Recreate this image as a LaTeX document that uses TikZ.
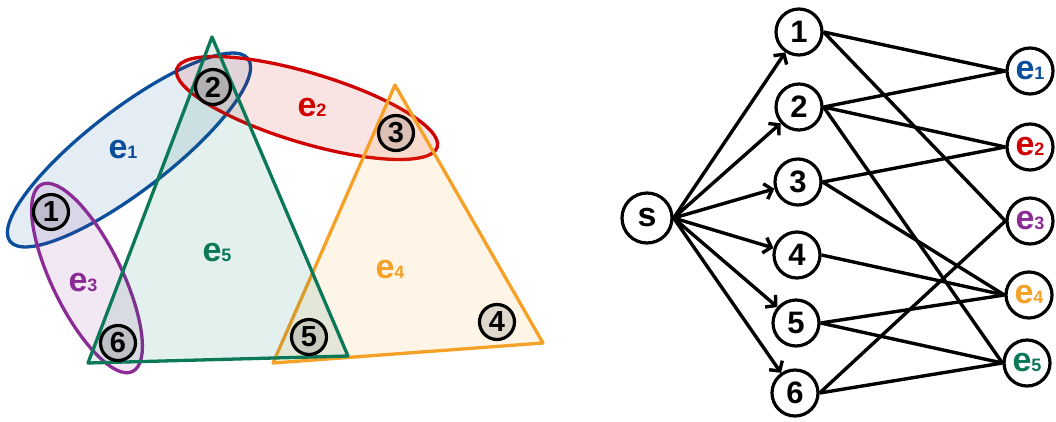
\documentclass[tikz,border=0pt]{standalone}
\usepackage{fontspec}
\setmainfont{Liberation Sans}
\usetikzlibrary{arrows.meta}
\definecolor{cB}{HTML}{0B4F9C}
\definecolor{cR}{HTML}{D00000}
\definecolor{cP}{HTML}{8A2B96}
\definecolor{cO}{HTML}{F5A026}
\definecolor{cG}{HTML}{0B7858}
\newcommand\esub[2]{\textcolor{#1}{e{\fontsize{18}{18}\selectfont #2}}}
\begin{document}
\begin{tikzpicture}[x=1pt,y=-1pt,
  hyper/.style={line width=3.3pt, fill opacity=0.11},
  cdig/.style={circle, draw=black, line width=3.2pt, minimum size=35pt, inner sep=0pt,
    fill=black, fill opacity=0.12, text opacity=1, draw opacity=1,
    font=\fontsize{29}{29}\selectfont\bfseries},
  elab/.style={font=\fontsize{34}{34}\selectfont\bfseries, inner sep=0pt},
  vtx/.style={circle, draw=black, line width=3.2pt, minimum size=46pt, inner sep=0pt,
    font=\fontsize{31}{31}\selectfont\bfseries},
  enode/.style={vtx, font=\fontsize{34}{34}\selectfont\bfseries},
  arr/.style={line width=3.4pt, -{Straight Barb[length=7pt,width=16pt]}},
  lnk/.style={line width=3.4pt}
]
\useasboundingbox (0,0) rectangle (1056,421);

% ---------- hypergraph ----------
\begin{scope}[shift={(129,150)}, rotate=37.5]
  \draw[hyper, draw=cB, fill=cB] (0,0) ellipse [x radius=150, y radius=41];
\end{scope}
\begin{scope}[shift={(87,278)}, rotate=-64]
  \draw[hyper, draw=cP, fill=cP] (0,0) ellipse [x radius=104, y radius=35];
\end{scope}
\begin{scope}[shift={(307,108)}, rotate=-16.7]
  \draw[hyper, draw=cR, fill=cR] (0,0) ellipse [x radius=136, y radius=35];
\end{scope}
\draw[hyper, draw=cO, fill=cO, line join=round] (395,85) -- (543,343) -- (273,363) -- cycle;
\draw[hyper, draw=cG, fill=cG, line join=round] (212,37) -- (348,356) -- (88,363) -- cycle;

\node[elab] (l1) at (123,150) {\esub{cB}{1}};
\node[elab] (l2) at (312,108) {\esub{cR}{2}};
\node[elab] (l3) at (83,283) {\esub{cP}{3}};
\node[elab] (l4) at (390,270) {\esub{cO}{4}};
\node[elab] (l5) at (217,253) {\esub{cG}{5}};

\node[cdig] (c1) at (51,212) {1};
\node[cdig] (c2) at (213,87) {2};
\node[cdig] (c3) at (396,133) {3};
\node[cdig] (c4) at (497,322) {4};
\node[cdig] (c5) at (309,337) {5};
\node[cdig] (c6) at (118,343) {6};

% ---------- bipartite graph ----------
\node[vtx, minimum size=50pt, font=\fontsize{34}{34}\selectfont\bfseries] (s) at (647,218) {s};
\node[vtx] (v1) at (799,32) {1};
\node[vtx] (v2) at (799,107) {2};
\node[vtx] (v3) at (798,182) {3};
\node[vtx] (v4) at (797,255) {4};
\node[vtx] (v5) at (796,323) {5};
\node[vtx] (v6) at (795,393) {6};

\node[enode] (e1) at (1030,71) {\esub{cB}{1}};
\node[enode] (e2) at (1030,147) {\esub{cR}{2}};
\node[enode] (e3) at (1030,221) {\esub{cP}{3}};
\node[enode] (e4) at (1029,295) {\esub{cO}{4}};
\node[enode] (e5) at (1027,363) {\esub{cG}{5}};

\foreach \v in {1,...,6} \draw[arr] (s.east) -- (v\v);

\draw[lnk] (v1.east) -- (e1.west);
\draw[lnk] (v1.east) -- (e3.west);
\draw[lnk] (v2.east) -- (e1.west);
\draw[lnk] (v2.east) -- (e2.west);
\draw[lnk] (v2.east) -- (e5.west);
\draw[lnk] (v3.east) -- (e2.west);
\draw[lnk] (v3.east) -- (e4.west);
\draw[lnk] (v4.east) -- (e4.west);
\draw[lnk] (v5.east) -- (e4.west);
\draw[lnk] (v5.east) -- (e5.west);
\draw[lnk] (v6.east) -- (e3.west);
\draw[lnk] (v6.east) -- (e5.west);
\end{tikzpicture}
\end{document}
